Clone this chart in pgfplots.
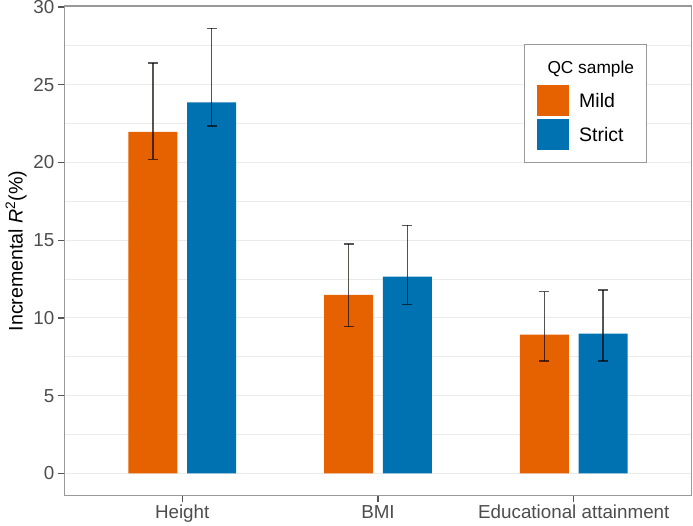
\documentclass[border=0pt]{standalone}
\usepackage{pgfplots}
\pgfplotsset{compat=1.18}
\usepackage{pgfplotstable}
\usepackage{fontspec}
\setmainfont{Liberation Sans}
\definecolor{mild}{HTML}{E66100}
\definecolor{strict}{HTML}{0072B2}
\definecolor{panelgray}{HTML}{999999}
\definecolor{tickgray}{HTML}{555555}
\definecolor{gridgray}{HTML}{EBEBEB}
\definecolor{ticktext}{HTML}{4D4D4D}

% x = category index, y = incremental R^2 (%), lo/hi = error bar ends
\pgfplotstableread{
x y lo hi
1 21.97 20.19 26.39
2 11.49 9.44 14.76
3 8.93 7.22 11.69
}\mildtab
\pgfplotstableread{
x y lo hi
1 23.87 22.35 28.63
2 12.65 10.88 15.96
3 8.99 7.24 11.79
}\stricttab

\pgfplotsset{
  /pgfplots/ybar legend/.style={
    /pgfplots/legend image code/.code={\fill[##1,draw=none] (0pt,-15.5pt) rectangle (31.6pt,15.5pt);}
  }
}

\begin{document}
\begin{tikzpicture}
\path[use as bounding box] (-64.7pt,-30.3pt) rectangle (628.3pt,495.7pt);
\begin{axis}[
  at={(0pt,0pt)}, anchor=south west,
  scale only axis, width=626.6pt, height=489.7pt,
  xmin=0.4, xmax=3.6, ymin=-1.43, ymax=30.06,
  ybar, bar width=0.25,
  xtick={1,2,3}, xticklabels={Height,BMI,Educational attainment},
  ytick={0,5,...,30}, minor ytick={2.5,7.5,...,27.5},
  ymajorgrids, yminorgrids,
  major grid style={gridgray, line width=1.1pt},
  minor grid style={gridgray, line width=0.7pt},
  tick pos=left, tick align=outside, major tick length=6.5pt, minor tick length=0pt,
  tick style={tickgray, line width=1.3pt},
  axis line style={panelgray, line width=1.1pt},
  /pgf/number format/assume math mode=true,
  ticklabel style={font=\fontsize{18.8}{22}\selectfont, text=ticktext, inner sep=0pt},
  xticklabel style={anchor=base},
  xticklabel shift=16.1pt,
  yticklabel style={anchor=east},
  yticklabel shift=3.7pt,
  ylabel={Incremental \textit{R}\textsuperscript{2}(\%)},
  ylabel style={font=\fontsize{19.6}{23}\selectfont, at={(axis description cs:-0.0777,0.5)}, anchor=center},
  legend cell align=left,
  legend style={at={(rel axis cs:0.733,0.9224)}, anchor=north west,
    draw=panelgray, line width=1pt, fill=white,
    inner xsep=12.7pt, inner ysep=11.7pt, row sep=3pt, column sep=10.4pt,
    nodes={inner sep=0pt}, font=\fontsize{19.5}{23}\selectfont},
]
\addlegendimage{legend image code/.code={\path[draw=none,fill=none] (0pt,-14.8pt) rectangle (0.1pt,11.5pt);}}
\addlegendentry{\fontsize{17.3}{20}\selectfont\hspace*{-31.7pt}QC sample}
\addplot[fill=mild, draw=none, bar shift=-0.15,
  error bars/.cd, y dir=both, y explicit,
  error bar style={draw=black, draw opacity=0.65, line width=1.4pt},
  error mark options={rotate=90, draw=black, draw opacity=0.65, line width=1.4pt, mark size=5pt}]
  table[x=x, y=y, y error plus expr=\thisrow{hi}-\thisrow{y}, y error minus expr=\thisrow{y}-\thisrow{lo}] {\mildtab};
\addlegendentry{Mild}
\addplot[fill=strict, draw=none, bar shift=0.15,
  error bars/.cd, y dir=both, y explicit,
  error bar style={draw=black, draw opacity=0.65, line width=1.4pt},
  error mark options={rotate=90, draw=black, draw opacity=0.65, line width=1.4pt, mark size=5pt}]
  table[x=x, y=y, y error plus expr=\thisrow{hi}-\thisrow{y}, y error minus expr=\thisrow{y}-\thisrow{lo}] {\stricttab};
\addlegendentry{Strict}
\end{axis}
\end{tikzpicture}
\end{document}
